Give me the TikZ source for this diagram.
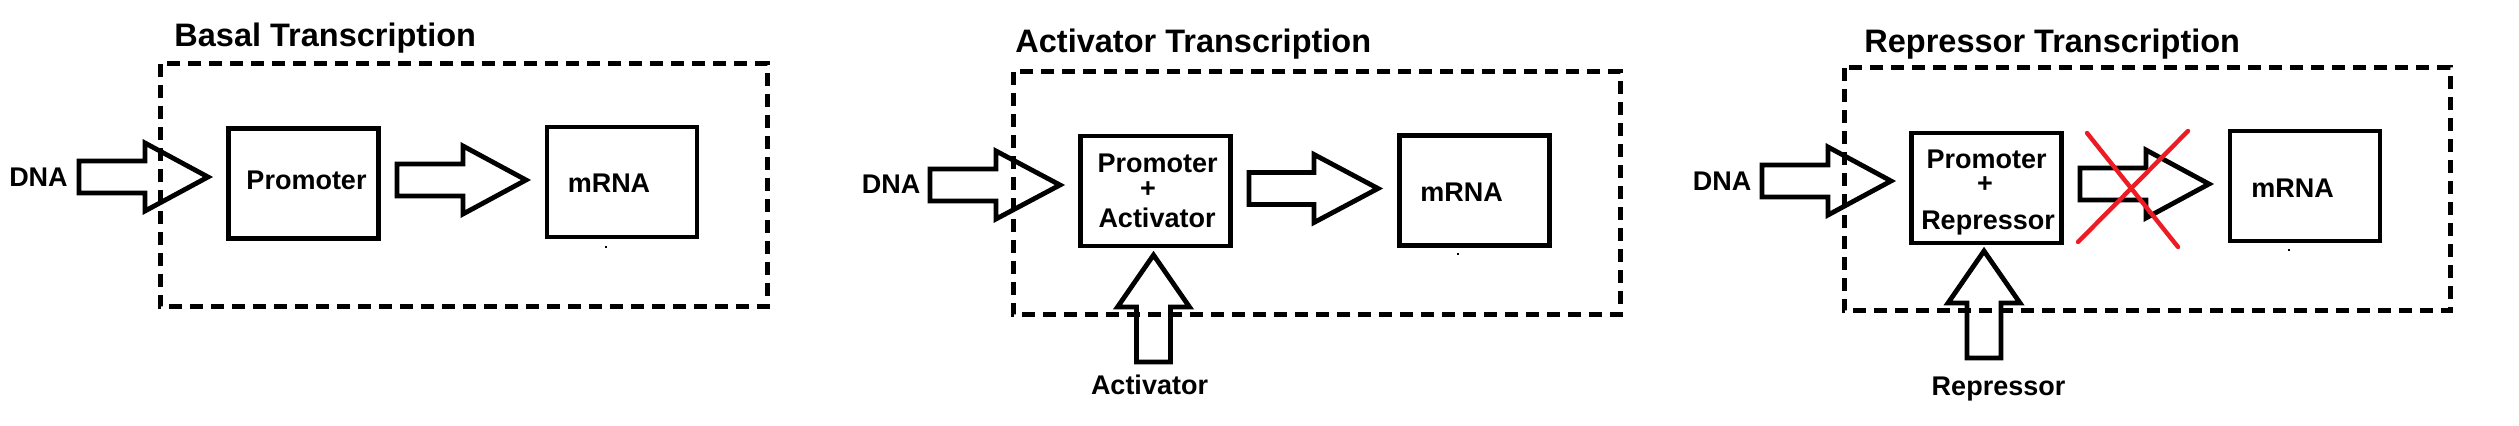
\documentclass[tikz,border=0pt]{standalone}
\usepackage{fontspec}
\setmainfont{Liberation Sans}
\tikzset{
  lbl/.style={font=\bfseries\fontsize{13.5}{13.5}\selectfont, inner sep=0pt, anchor=base},
  ttl/.style={font=\bfseries\fontsize{16.25}{16.25}\selectfont, inner sep=0pt, anchor=base west},
  blk/.style={draw, line width=2.4pt, minimum width=75pt, minimum height=55pt, inner sep=0pt},
  frame/.style={draw, line width=2.5pt, dash pattern=on 6.5pt off 4pt},
  barrow/.style={draw, line width=2.4pt, line join=miter},
  redx/.style={draw, line width=2.2pt, line cap=round, color=xred},
}
\definecolor{xred}{RGB}{237,28,36}
% right-pointing block arrow: tail x, head-base x, tip x, centre y, shaft half, head half
\newcommand\rblock[6]{\draw[barrow] (#1,#4-#5) -- (#2,#4-#5) -- (#2,#4-#6) -- (#3,#4) -- (#2,#4+#6) -- (#2,#4+#5) -- (#1,#4+#5) -- cycle;}
% up-pointing block arrow: centre x, tip y, head-base y, bottom y, shaft half, head half
\newcommand\ublock[6]{\draw[barrow] (#1-#5,#4) -- (#1-#5,#3) -- (#1-#6,#3) -- (#1,#2) -- (#1+#6,#3) -- (#1+#5,#3) -- (#1+#5,#4) -- cycle;}
\begin{document}
\begin{tikzpicture}[x=0.5pt,y=-0.5pt]
\useasboundingbox (0,0) rectangle (2519,426);

% ---------------- Panel 1: Basal ----------------
\node[ttl] (t1) at (174,47) {Basal Transcription};
\draw[frame] (160,64) rectangle (767,307);
\node[lbl] (dna1) at (38.5,187) {DNA};
\node[blk] (p1) at (303.5,183.5) {};
\node[lbl] (p1t) at (306.5,189.5) {Promoter};
\node[blk] (m1) at (622,182) {};
\node[lbl] (m1t) at (609,193) {mRNA};
\rblock{79}{145}{208}{177}{16}{34}
\rblock{397}{463}{526}{180}{16}{34}
\fill (605,246) rectangle (607,248);

% ---------------- Panel 2: Activator ----------------
\node[ttl] (t2) at (1015,53) {Activator Transcription};
\draw[frame] (1013,72) rectangle (1620,315);
\node[lbl] (dna2) at (891,194) {DNA};
\node[blk] (p2) at (1155.5,191) {};
\node[lbl] (p2a) at (1157.5,173) {Promoter};
\node[lbl, anchor=center] (p2b) at (1148,190) {+};
\node[lbl] (p2c) at (1157,228) {Activator};
\node[blk] (m2) at (1474.5,190.5) {};
\node[lbl] (m2t) at (1461.5,201.5) {mRNA};
\node[lbl] (act) at (1149.5,395) {Activator};
\rblock{930}{996}{1060}{185}{16}{34}
\rblock{1249}{1314}{1378}{188.5}{16}{34}
\ublock{1153.5}{255}{307}{362}{17}{36}
\fill (1457,253) rectangle (1459,255);

% ---------------- Panel 3: Repressor ----------------
\node[ttl] (t3) at (1864,52.7) {Repressor Transcription};
\draw[frame] (1844,68) rectangle (2450,311);
\node[lbl] (dna3) at (1722,191) {DNA};
\node[blk] (p3) at (1986.5,188) {};
\node[lbl] (p3a) at (1986.5,168.5) {Promoter};
\node[lbl, anchor=center] (p3b) at (1985,184.3) {+};
\node[lbl] (p3c) at (1988,229.3) {Repressor};
\node[blk] (m3) at (2305,186) {};
\node[lbl] (m3t) at (2292.5,198) {mRNA};
\node[lbl] (rep) at (1998.5,395.5) {Repressor};
\rblock{1762}{1828}{1891}{181}{16}{34}
\rblock{2080}{2146}{2209}{184}{16}{34}
\ublock{1984}{251}{303}{358}{17}{36}
\fill (2288,249) rectangle (2290,251);
\draw[redx] (2087,133) -- (2178,247);
\draw[redx] (2078,242) -- (2188,131);
\end{tikzpicture}
\end{document}
